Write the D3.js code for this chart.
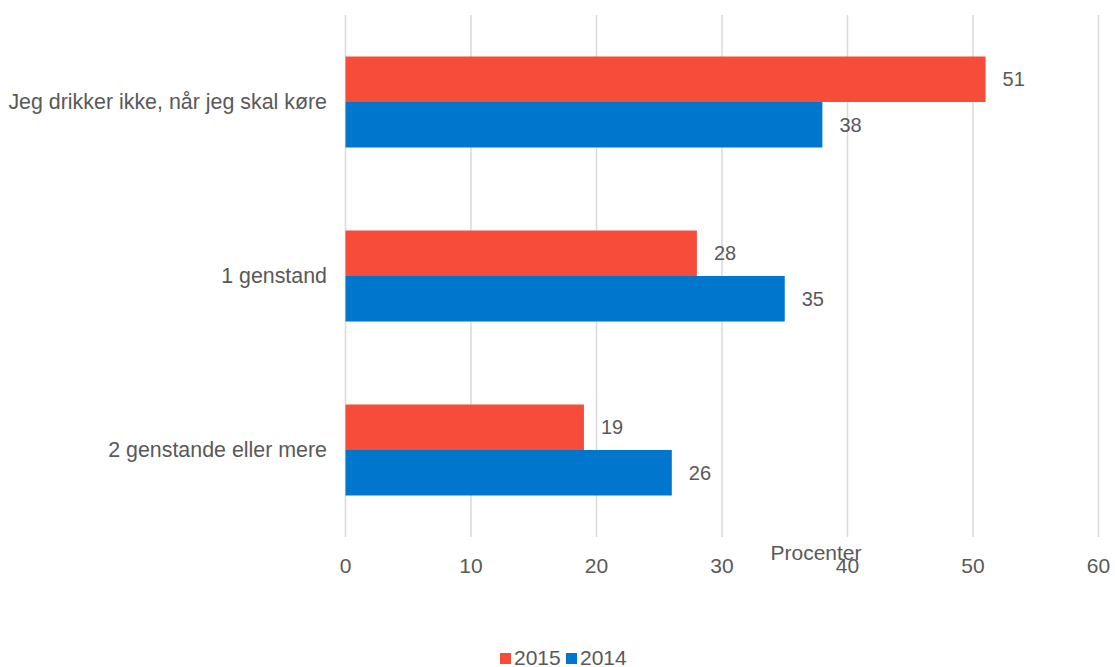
<!DOCTYPE html>
<html><head><meta charset="utf-8">
<script src="https://cdn.jsdelivr.net/npm/d3@7"></script>
<style>body{margin:0;background:#fff}svg{display:block;font-family:"Liberation Sans",Arial,sans-serif}</style>
</head><body><svg id="c" width="1115" height="667"></svg>
<script>
const categories = ["Jeg drikker ikke, når jeg skal køre", "1 genstand", "2 genstande eller mere"];
const series = ["2015", "2014"];
const values2015 = [51, 28, 19];
const values2014 = [38, 35, 26];
const xTicks = [0, 10, 20, 30, 40, 50, 60];
const colors = {"2015": "#F84C3B", "2014": "#0077CC"};
const data = categories.map((c, i) => ({cat: c, "2015": values2015[i], "2014": values2014[i]}));

const svg = d3.select("#c");
const x = d3.scaleLinear().domain([0, 60]).range([345.5, 1098.5]);
const y = d3.scaleBand().domain(categories).range([15, 537]).paddingInner(0.477).paddingOuter(0.2385);
const ySub = d3.scaleBand().domain(series).range([0, y.bandwidth()]);
const txt = "#595959";

svg.append("g").selectAll("line").data(xTicks).join("line")
  .attr("x1", d => x(d)).attr("x2", d => x(d)).attr("y1", 15).attr("y2", 537)
  .attr("stroke", "#D9D9D9").attr("stroke-width", 1.5);

const g = svg.append("g").selectAll("g").data(data).join("g")
  .attr("transform", d => `translate(0,${y(d.cat)})`);
g.selectAll("rect").data(d => series.map(s => ({s, v: d[s]}))).join("rect")
  .attr("x", x(0)).attr("y", d => ySub(d.s)).attr("width", d => x(d.v) - x(0))
  .attr("height", ySub.bandwidth()).attr("fill", d => colors[d.s]);
g.selectAll("text.v").data(d => series.map(s => ({s, v: d[s]}))).join("text")
  .attr("class", "v").attr("x", d => x(d.v) + 17).attr("y", d => ySub(d.s) + ySub.bandwidth() / 2)
  .attr("dy", "0.35em").attr("fill", txt).attr("font-size", 20).text(d => d.v);

svg.append("g").selectAll("text").data(categories).join("text")
  .attr("x", 327).attr("y", d => y(d) + y.bandwidth() / 2).attr("dy", "0.35em")
  .attr("text-anchor", "end").attr("fill", txt).attr("font-size", 21.4).text(d => d);

svg.append("g").selectAll("text").data(xTicks).join("text")
  .attr("x", d => x(d)).attr("y", 573).attr("text-anchor", "middle")
  .attr("fill", txt).attr("font-size", 21).text(d => d);

svg.append("text").attr("x", 816).attr("y", 560).attr("text-anchor", "middle")
  .attr("fill", txt).attr("font-size", 21).text("Procenter");

const leg = svg.append("g");
const legX = [500, 566];
series.forEach((s, i) => {
  leg.append("rect").attr("x", legX[i]).attr("y", 653).attr("width", 11).attr("height", 11).attr("fill", colors[s]);
  leg.append("text").attr("x", legX[i] + 14).attr("y", 665).attr("fill", txt).attr("font-size", 21).text(s);
});
</script></body></html>
